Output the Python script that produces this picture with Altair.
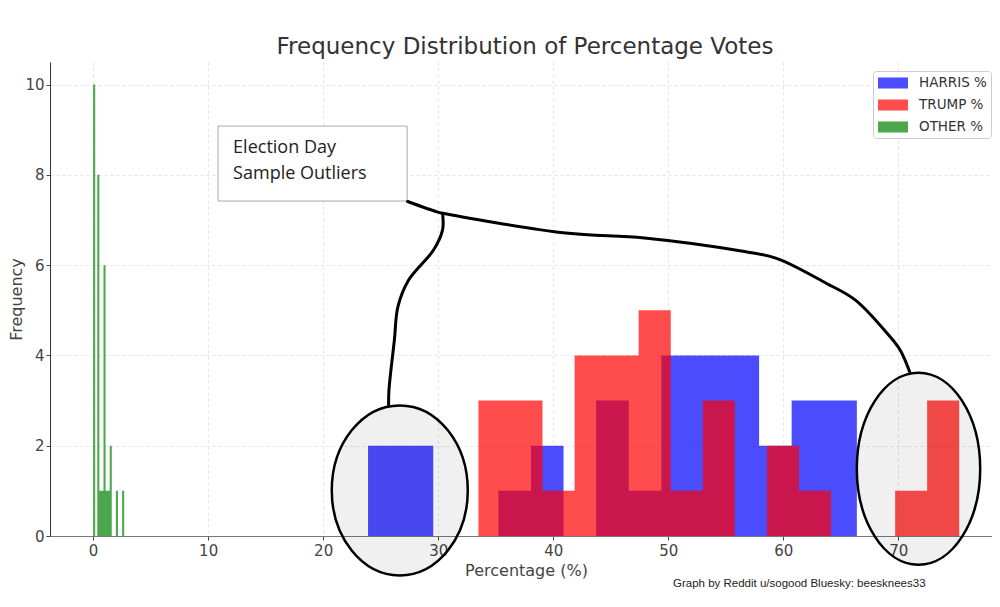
import altair as alt
import pandas as pd

# ---------------- data ----------------
SERIES = ["HARRIS %", "TRUMP %", "OTHER %"]
COLORS = ["#0000ff", "#ff0000", "#008000"]

HARRIS_EDGES = [23.90, 26.73, 29.57, 32.40, 35.23, 38.07, 40.90, 43.73, 46.57,
                49.40, 52.23, 55.07, 57.90, 60.73, 63.57, 66.40]
HARRIS_COUNTS = [2, 2, 0, 0, 1, 2, 0, 3, 1, 4, 4, 4, 2, 3, 3]

TRUMP_EDGES = [33.50, 36.29, 39.07, 41.86, 44.65, 47.43, 50.22, 53.01, 55.79,
               58.58, 61.37, 64.15, 66.94, 69.73, 72.51, 75.30]
TRUMP_COUNTS = [3, 3, 1, 4, 4, 5, 1, 3, 0, 2, 1, 0, 0, 1, 3]

OTHER_EDGES = [0.00, 0.18, 0.36, 0.54, 0.72, 0.90, 1.08, 1.26, 1.44,
               1.62, 1.80, 1.98, 2.16, 2.34, 2.52, 2.70]
OTHER_COUNTS = [10, 0, 8, 1, 1, 6, 1, 1, 2, 0, 0, 1, 0, 0, 1]

X_TICKS = [0, 10, 20, 30, 40, 50, 60, 70]
Y_TICKS = [0, 2, 4, 6, 8, 10]

TITLE = "Frequency Distribution of Percentage Votes"
X_TITLE = "Percentage (%)"
Y_TITLE = "Frequency"
NOTE_LINES = ["Election Day", "Sample Outliers"]
CREDIT = "Graph by Reddit u/sogood Bluesky: beesknees33"

# annotation geometry (in data units: percentage, frequency)
NOTE_BOX = {"x0": 10.86, "x1": 27.30, "y0": 7.42, "y1": 9.08}
NOTE_TEXT_X = 12.17
NOTE_TEXT_Y = [8.59, 8.03]
CURVE_MAIN_X = [27.34, 29.90, 30.38, 41.10, 47.93, 56.63, 59.42, 63.73, 66.25, 69.03, 70.16, 71.03]
CURVE_MAIN_Y = [7.41, 7.18, 7.15, 6.71, 6.60, 6.30, 6.15, 5.60, 5.23, 4.49, 4.12, 3.61]
CURVE_BRANCH_X = [30.38, 30.38, 29.61, 27.43, 26.50, 26.19, 25.72, 25.69]
CURVE_BRANCH_Y = [7.15, 6.78, 6.34, 5.67, 5.08, 4.34, 3.23, 2.90]
ELLIPSE_LEFT = {"x": 26.66, "y": 1.01}
ELLIPSE_RIGHT = {"x": 71.76, "y": 1.49}

# ---------------- tables ----------------
rows = []
for name, edges, counts in [("HARRIS %", HARRIS_EDGES, HARRIS_COUNTS),
                            ("TRUMP %", TRUMP_EDGES, TRUMP_COUNTS),
                            ("OTHER %", OTHER_EDGES, OTHER_COUNTS)]:
    # step outline of the histogram: each edge carries the count of the bin it opens
    for i, e in enumerate(edges):
        rows.append({"series": name, "edge": e, "count": counts[min(i, len(counts) - 1)]})
hist = pd.DataFrame(rows)

curve_rows = []
for seg, xs, ys in [("main", CURVE_MAIN_X, CURVE_MAIN_Y), ("branch", CURVE_BRANCH_X, CURVE_BRANCH_Y)]:
    for i, (a, b) in enumerate(zip(xs, ys)):
        curve_rows.append({"seg": seg, "i": i, "x": a, "y": b})
curves = pd.DataFrame(curve_rows)

box = pd.DataFrame([NOTE_BOX])
note = pd.DataFrame({"x": [NOTE_TEXT_X] * 2, "y": NOTE_TEXT_Y, "t": NOTE_LINES})

FONT = "DejaVu Sans"
XS = alt.Scale(domain=[-3.75, 78.15], nice=False, zero=False)
YS = alt.Scale(domain=[0, 10.5], nice=False, zero=False)

XA = alt.Axis(
    values=X_TICKS, title=X_TITLE, grid=True, gridDash=[3, 3], gridColor="#e3e3e3",
    domainColor="#777777", tickColor="#444444", tickSize=4, labelFontSize=15,
    labelColor="#444444", labelPadding=3, titleFontSize=16, titleColor="#444444",
    titleFontWeight="normal", titlePadding=4, titleX=476, labelFlush=False)
YA = alt.Axis(
    values=Y_TICKS, title=Y_TITLE, grid=True, gridDash=[3, 3], gridColor="#e3e3e3",
    domainColor="#333333", tickColor="#444444", tickSize=4, labelFontSize=15,
    labelColor="#444444", labelPadding=2, titleFontSize=16, titleColor="#444444",
    titleFontWeight="normal", titlePadding=0)


def X(field):
    return alt.X(field, scale=XS, axis=XA)


def Y(field):
    return alt.Y(field, scale=YS, axis=YA)


def ellipse_path(r):
    k = 0.5523
    return (f"M1,0C1,{k*r:.4f} {k},{r} 0,{r}C{-k},{r} -1,{k*r:.4f} -1,0"
            f"C-1,{-k*r:.4f} {-k},{-r} 0,{-r}C{k},{-r} 1,{-k*r:.4f} 1,0Z")


legend_symbol = "M-1.875,-0.69H1.875V0.69H-1.875Z"

bars = alt.Chart(hist).mark_area(opacity=0.7, interpolate="step-after").encode(
    x=X("edge:Q"),
    y=alt.Y("count:Q", scale=YS, axis=YA, stack=None),
    color=alt.Color("series:N", scale=alt.Scale(domain=SERIES, range=COLORS),
                    legend=alt.Legend(
                        title=None, orient="none", legendX=823, legendY=9, padding=4,
                        strokeColor="#cccccc", fillColor="white", cornerRadius=3,
                        symbolType=legend_symbol, symbolSize=256, symbolOpacity=0.7,
                        symbolStrokeWidth=0, symbolOffset=8, labelOffset=18,
                        labelFontSize=13.5, labelColor="#333333", labelFont=FONT,
                        rowPadding=7)),
)

note_box = alt.Chart(box).mark_rect(fill="white", stroke="#aaaaaa", strokeWidth=1).encode(
    x=X("x0:Q"), x2="x1:Q", y=Y("y0:Q"), y2="y1:Q")

note_text = alt.Chart(note).mark_text(
    align="left", baseline="middle", font="Open Sans", fontSize=18, color="#222222").encode(
    x=X("x:Q"), y=Y("y:Q"), text="t:N")

lines = alt.Chart(curves).mark_line(
    color="black", strokeWidth=3, interpolate="catmull-rom", strokeCap="round").encode(
    x=X("x:Q"), y=Y("y:Q"), detail="seg:N", order="i:Q")


def ellipse(center, ratio, rx):
    return alt.Chart(pd.DataFrame([center])).mark_point(
        shape=ellipse_path(ratio), size=(2 * rx) ** 2, filled=True, fill="black",
        fillOpacity=0.06, stroke="black", strokeOpacity=1, strokeWidth=2.5, opacity=1).encode(
        x=X("x:Q"), y=Y("y:Q"))


ell_left = ellipse(ELLIPSE_LEFT, 1.25, 68)
ell_right = ellipse(ELLIPSE_RIGHT, 1.556, 61.7)

credit = alt.Chart(pd.DataFrame({"t": [CREDIT]})).mark_text(
    align="left", baseline="middle", font="Liberation Sans", fontSize=11.5,
    color="#222222").encode(x=alt.value(623), y=alt.value(522), text="t:N")

chart = alt.layer(bars, note_box, note_text, lines, ell_left, ell_right, credit).properties(
    width=942, height=474,
    title=alt.TitleParams(TITLE, fontSize=23, font=FONT, color="#333333",
                          fontWeight="normal", offset=3, anchor="middle", dx=4),
    autosize=alt.AutoSizeParams(type="none"),
    padding={"left": 42, "top": 54, "right": 0, "bottom": 60},
).configure_view(strokeWidth=0).configure_axis(labelFont=FONT, titleFont=FONT)

chart.save("out.html", embed_options={"renderer": "svg", "actions": False})
